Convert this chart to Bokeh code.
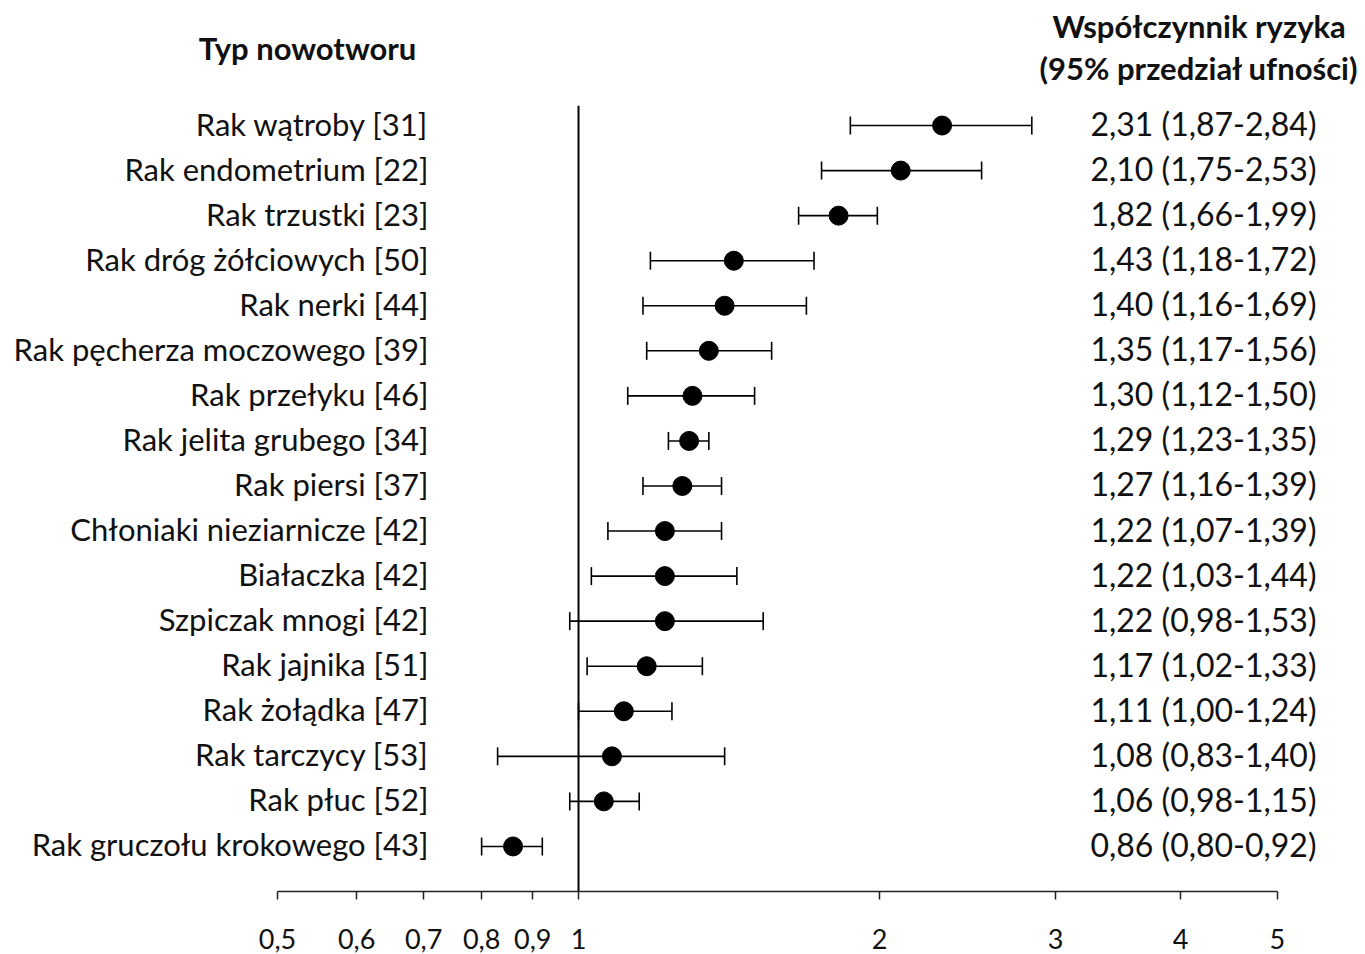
from bokeh.plotting import figure
from bokeh.models import ColumnDataSource, Range1d, FixedTicker, Whisker, TeeHead
from bokeh.core.properties import value
from bokeh.embed import file_html
from bokeh.resources import INLINE

# Cancer types with number of studies, hazard ratios and 95% CI bounds
cancers = [
    "Rak wątroby [31]",
    "Rak endometrium [22]",
    "Rak trzustki [23]",
    "Rak dróg żółciowych [50]",
    "Rak nerki [44]",
    "Rak pęcherza moczowego [39]",
    "Rak przełyku [46]",
    "Rak jelita grubego [34]",
    "Rak piersi [37]",
    "Chłoniaki nieziarnicze [42]",
    "Białaczka [42]",
    "Szpiczak mnogi [42]",
    "Rak jajnika [51]",
    "Rak żołądka [47]",
    "Rak tarczycy [53]",
    "Rak płuc [52]",
    "Rak gruczołu krokowego [43]",
]
hr = [2.31, 2.10, 1.82, 1.43, 1.40, 1.35, 1.30, 1.29, 1.27, 1.22, 1.22, 1.22, 1.17, 1.11, 1.08, 1.06, 0.86]
ci_low = [1.87, 1.75, 1.66, 1.18, 1.16, 1.17, 1.12, 1.23, 1.16, 1.07, 1.03, 0.98, 1.02, 1.00, 0.83, 0.98, 0.80]
ci_high = [2.84, 2.53, 1.99, 1.72, 1.69, 1.56, 1.50, 1.35, 1.39, 1.39, 1.44, 1.53, 1.33, 1.24, 1.40, 1.15, 0.92]

tick_values = [0.5, 0.6, 0.7, 0.8, 0.9, 1, 2, 3, 4, 5]
tick_labels = ["0,5", "0,6", "0,7", "0,8", "0,9", "1", "2", "3", "4", "5"]

header_left = "Typ nowotworu"
header_right = ["Współczynnik ryzyka", "(95% przedział ufności)"]


def pl(v):
    return f"{v:.2f}".replace(".", ",")


n = len(cancers)
rows = list(range(n - 1, -1, -1))  # top row drawn highest
ci_text = [f"{pl(h)} ({pl(l)}-{pl(u)})" for h, l, u in zip(hr, ci_low, ci_high)]

src = ColumnDataSource(dict(y=rows, hr=hr, lo=ci_low, hi=ci_high,
                            name=cancers, ci=ci_text))

FONT = "Lato"

p = figure(width=1365, height=954, x_axis_type="log",
           x_range=Range1d(0.2642, 6.124), y_range=Range1d(-1.0, 18.775),
           output_backend="svg", toolbar_location=None,
           y_axis_location=None,
           min_border_left=0, min_border_right=0, min_border_top=0,
           min_border_bottom=63)
p.outline_line_color = None
p.xgrid.visible = False
p.ygrid.visible = False
p.background_fill_color = "white"
p.border_fill_color = "white"

ax = p.xaxis[0]
ax.bounds = (0.5, 5)
ax.ticker = FixedTicker(ticks=tick_values, minor_ticks=[])
ax.major_label_overrides = {t: s for t, s in zip(tick_values, tick_labels)}
ax.major_tick_in = 0
ax.major_tick_out = 8
ax.minor_tick_out = 0
ax.minor_tick_in = 0
ax.axis_line_width = 1.5
ax.axis_line_color = "#222222"
ax.major_tick_line_width = 1.5
ax.major_tick_line_color = "#222222"
ax.major_label_text_font = FONT
ax.major_label_text_font_size = "27px"
ax.major_label_text_color = "#111111"
ax.major_label_standoff = 29

# reference line at HR = 1
p.segment(x0=1, y0=-1.0, x1=1, y1=16.44, line_color="black", line_width=2)

# confidence intervals
whisk = Whisker(source=src, base="y", lower="lo", upper="hi", dimension="width",
                line_color="black", line_width=1.6,
                lower_head=TeeHead(size=18, line_color="black", line_width=1.6),
                upper_head=TeeHead(size=18, line_color="black", line_width=1.6))
p.add_layout(whisk)

# point estimates
p.scatter(x="hr", y="y", source=src, size=19, color="black")

# cancer-type labels on the left
p.text(x=0.7079, y="y", text="name", source=src, text_align="right",
       text_baseline="middle", y_offset=-2, text_font=value(FONT),
       text_font_size="31px", text_color="#111111")

# HR (95% CI) labels on the right
p.text(x=5.47, y="y", text="ci", source=src, text_align="right",
       text_baseline="middle", y_offset=-2, text_font=value(FONT),
       text_font_size="32px", text_color="#111111")

# column headers
p.text(x=[0.5358], y=[17.71], text=[header_left], text_align="center",
       text_baseline="middle", text_font=value(FONT), text_font_size="31px",
       text_font_style="bold", text_color="#111111")
p.text(x=[4.175, 4.175], y=[18.22, 17.27], text=header_right, text_align="center",
       text_baseline="middle", text_font=value(FONT), text_font_size="31px",
       text_font_style="bold", text_color="#111111")

open("out.html", "w").write(file_html(p, INLINE))
